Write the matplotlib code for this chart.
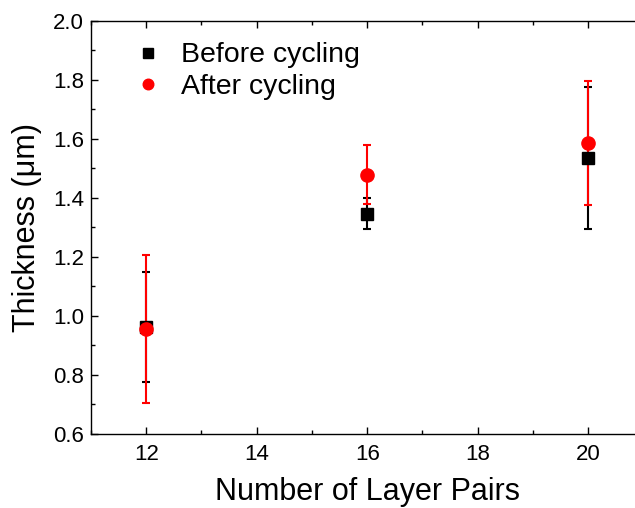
import matplotlib
matplotlib.use("Agg")
import matplotlib.pyplot as plt
from matplotlib.ticker import MultipleLocator

plt.rcParams['font.family'] = ['Liberation Sans', 'DejaVu Sans']

layer_pairs = [12, 16, 20]
before = [0.963, 1.347, 1.535]
before_err = [0.186, 0.053, 0.24]
after = [0.956, 1.478, 1.585]
after_err = [0.25, 0.10, 0.21]

fig = plt.figure(figsize=(6.35, 5.08), dpi=100)
ax = fig.add_axes([0.1433, 0.1457, 0.870, 0.813])

ax.errorbar(layer_pairs, before, yerr=before_err, fmt='s', color='black',
            ms=8.5, elinewidth=1.5, capsize=3, capthick=1.5, label='Before cycling')
ax.errorbar(layer_pairs, after, yerr=after_err, fmt='o', color='red',
            ms=9.5, elinewidth=1.5, capsize=3, capthick=1.5, label='After cycling')

ax.set_xlim(11, 21)
ax.set_ylim(0.6, 2.0)
ax.xaxis.set_major_locator(MultipleLocator(2))
ax.xaxis.set_minor_locator(MultipleLocator(1))
ax.yaxis.set_major_locator(MultipleLocator(0.2))
ax.yaxis.set_minor_locator(MultipleLocator(0.1))
ax.tick_params(which='both', direction='in', top=True, right=True, labelsize=16)
ax.tick_params(which='major', length=5, width=1)
ax.tick_params(which='minor', length=3, width=1)
ax.tick_params(axis='x', which='both', top=True, length=1)
ax.tick_params(axis='x', which='major', bottom=True, length=5)
ax.tick_params(axis='x', which='minor', bottom=True, length=3)
ax.tick_params(axis='x', pad=7)
ax.tick_params(axis='y', pad=5)

for s in ax.spines.values():
    s.set_linewidth(1.0)

ax.set_xlabel('Number of Layer Pairs', fontsize=22, labelpad=9)
ax.set_ylabel('Thickness (μm)', fontsize=22, labelpad=8)

handles, labels = ax.get_legend_handles_labels()
handles = [h[0] for h in handles]
ax.legend(handles, labels, loc='upper left', bbox_to_anchor=(0.037, 1.01),
          frameon=False, fontsize=20.5, handletextpad=0.75, labelspacing=0.2,
          handlelength=0.8, markerscale=0.8)

fig.savefig('out.png', dpi=100)
